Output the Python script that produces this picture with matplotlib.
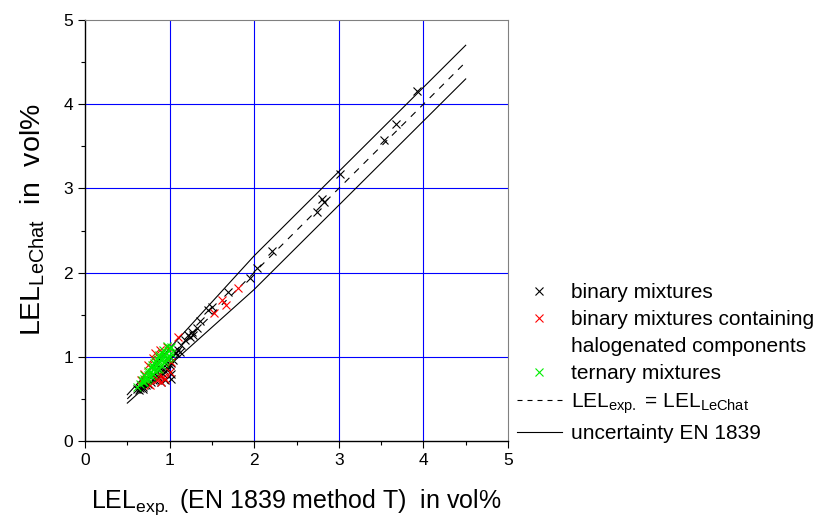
import matplotlib
matplotlib.use("Agg")
import matplotlib.pyplot as plt
from matplotlib.lines import Line2D
from matplotlib.ticker import MultipleLocator

plt.rcParams["font.family"] = ["Liberation Sans", "DejaVu Sans"]
plt.rcParams["mathtext.fontset"] = "custom"
plt.rcParams["mathtext.rm"] = "Liberation Sans"
plt.rcParams["mathtext.it"] = "Liberation Sans"
plt.rcParams["mathtext.bf"] = "Liberation Sans:bold"

# ------------------------------------
# DATA
# ------------------------------------
# binary mixtures
bin_x = [3.92, 3.68, 3.53, 3.01, 2.80, 2.82, 2.74, 2.21, 2.03, 1.95, 1.69,
         1.50, 1.45, 1.36, 1.32, 1.26, 1.22, 1.28, 1.18, 1.14, 1.24, 1.12,
         1.06, 1.04, 1.08, 1.10,
         0.62, 0.65, 0.68, 0.70, 0.72, 0.75, 0.78, 0.80, 0.83, 0.86, 0.88,
         0.92, 0.95, 0.98, 1.00, 1.02, 0.98, 1.00, 0.96, 0.90, 0.85, 0.80,
         0.75, 0.70, 0.66, 1.02, 1.02, 0.95, 0.90, 0.64, 0.68]
bin_y = [4.16, 3.77, 3.57, 3.17, 2.87, 2.84, 2.72, 2.26, 2.05, 1.93, 1.77,
         1.59, 1.56, 1.42, 1.34, 1.30, 1.26, 1.26, 1.20, 1.14, 1.24, 1.06,
         1.04, 0.96, 1.04, 1.08,
         0.62, 0.63, 0.64, 0.66, 0.67, 0.68, 0.70, 0.72, 0.73, 0.76, 0.78,
         0.80, 0.83, 0.86, 0.90, 0.93, 0.97, 1.00, 0.92, 0.86, 0.82, 0.78,
         0.74, 0.70, 0.67, 0.80, 0.74, 0.72, 0.70, 0.60, 0.62]

# binary mixtures containing halogenated components
hal_x = [1.81, 1.62, 1.67, 1.52, 1.10, 0.89, 0.83, 0.85, 0.95, 0.77, 1.02,
         0.90, 0.88, 0.80, 0.75, 0.70, 0.66, 0.92, 1.00, 0.97]
hal_y = [1.82, 1.68, 1.62, 1.52, 1.24, 1.08, 1.04, 0.72, 0.74, 0.67, 0.94,
         0.70, 0.78, 0.98, 0.90, 0.80, 0.72, 0.76, 0.82, 1.12]

# ternary mixtures
ter_x = [0.62, 0.65, 0.68, 0.70, 0.72, 0.74, 0.76, 0.78, 0.80, 0.82, 0.84,
         0.86, 0.88, 0.90, 0.92, 0.94, 0.96, 0.98, 1.00, 0.97, 0.92, 0.88,
         0.85, 0.82, 0.78, 0.74, 0.70, 0.67, 0.80, 0.85, 0.90, 0.95, 1.00,
         0.75, 0.70, 0.88, 0.93, 0.98, 1.02, 1.02, 0.96, 0.83, 0.78, 0.73,
         0.87, 0.91, 0.79, 0.83]
ter_y = [0.64, 0.68, 0.70, 0.74, 0.76, 0.78, 0.80, 0.82, 0.85, 0.87, 0.90,
         0.92, 0.95, 0.97, 1.00, 1.02, 1.05, 1.08, 1.10, 1.13, 1.08, 1.02,
         0.97, 0.93, 0.88, 0.83, 0.78, 0.73, 0.80, 0.86, 0.90, 0.95, 1.00,
         0.75, 0.70, 0.86, 0.93, 0.99, 1.05, 1.12, 0.98, 0.83, 0.77, 0.72,
         1.00, 1.04, 0.90, 0.95]

# reference lines
ref_x = [0.5, 4.5]
unc_x = [0.5, 2.0, 4.5]
unc_hi = [0.55, 2.2, 4.7]
unc_lo = [0.45, 1.8, 4.3]

# ------------------------------------
# FIGURE
# ------------------------------------
fig = plt.figure(figsize=(8.26, 5.17), dpi=100)
ax = fig.add_axes([85 / 826, 1 - 441 / 517, 423 / 826, 421 / 517])

ax.set_xlim(0, 5)
ax.set_ylim(0, 5)
ax.xaxis.set_major_locator(MultipleLocator(1))
ax.yaxis.set_major_locator(MultipleLocator(1))
ax.xaxis.set_minor_locator(MultipleLocator(0.5))
ax.yaxis.set_minor_locator(MultipleLocator(0.5))

# blue grid at interior integers
for v in [1, 2, 3, 4]:
    ax.axvline(v, color="#0000ff", linewidth=0.8, zorder=0)
    ax.axhline(v, color="#0000ff", linewidth=0.8, zorder=0)

ax.plot(ref_x, ref_x, color="black", linewidth=0.8, dashes=(6, 6), zorder=2)
ax.plot(unc_x, unc_hi, color="black", linewidth=0.8, zorder=2)
ax.plot(unc_x, unc_lo, color="black", linewidth=0.8, zorder=2)

ms = 6
ax.plot(bin_x, bin_y, linestyle="none", marker="x", color="black",
        markersize=ms, markeredgewidth=0.8, zorder=3)
ax.plot(hal_x, hal_y, linestyle="none", marker="x", color="#ff0000",
        markersize=ms, markeredgewidth=0.8, zorder=3)
ax.plot(ter_x, ter_y, linestyle="none", marker="x", color="#00ee00",
        markersize=ms, markeredgewidth=0.8, zorder=3)

for s in ["top", "right"]:
    ax.spines[s].set_color("#808080")
for s in ["left", "bottom"]:
    ax.spines[s].set_color("black")
    ax.spines[s].set_linewidth(1)

ax.tick_params(which="major", direction="out", length=5, width=0.8,
               labelsize=12.5, top=False, right=False)
ax.tick_params(which="minor", direction="out", length=3, width=0.8,
               top=False, right=False)

ax.set_xlabel(r"LEL$_{\mathrm{exp.}}$ (EN 1839 method T)  in vol%",
              fontsize=18, labelpad=14)
ax.set_ylabel(r"LEL$_{\mathrm{LeChat}}$  in  vol%", fontsize=20.5)
ax.yaxis.set_label_coords(-0.09, 0.525)

# ------------------------------------
# LEGEND
# ------------------------------------
handles = [
    Line2D([], [], linestyle="none", marker="x", color="black",
           markersize=ms, markeredgewidth=0.8),
    Line2D([], [], linestyle="none", marker="x", color="#ff0000",
           markersize=ms, markeredgewidth=0.8),
    Line2D([], [], linestyle="none"),
    Line2D([], [], linestyle="none", marker="x", color="#00ee00",
           markersize=ms, markeredgewidth=0.8),
    Line2D([], [], color="black", linewidth=0.8, dashes=(4.5, 4.5)),
    Line2D([], [], color="black", linewidth=0.8),
]
labels = [
    "binary mixtures",
    "binary mixtures containing",
    "halogenated components",
    "ternary mixtures",
    r"LEL$_{\mathrm{exp.}}$ = LEL$_{\mathrm{LeChat}}$",
    "uncertainty EN 1839",
]
ax.legend(handles, labels, loc="upper left",
          bbox_to_anchor=(517 / 826, 1 - 283 / 517),
          bbox_transform=fig.transFigure, frameon=False, fontsize=15,
          handlelength=2.15, handletextpad=0.45, borderpad=0,
          borderaxespad=0, labelspacing=0.39)

fig.savefig("out.png", dpi=100)
